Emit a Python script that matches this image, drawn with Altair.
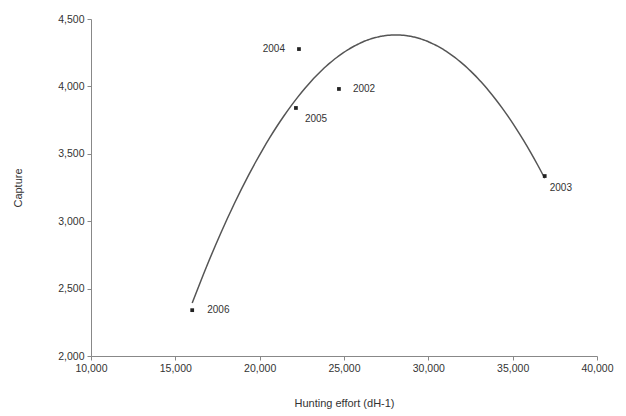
import altair as alt
import pandas as pd

years = ["2002", "2003", "2004", "2005", "2006"]
effort = [24700, 36900, 22330, 22150, 16000]
capture = [3981, 3335, 4277, 3840, 2340]

df = pd.DataFrame({"year": years, "effort": effort, "capture": capture})

xs = alt.Scale(domain=[10000, 40000], nice=False)
ys = alt.Scale(domain=[2000, 4500], nice=False, zero=False)
X = alt.X("effort:Q", scale=xs, axis=alt.Axis(title="Hunting effort (dH-1)", values=[10000, 15000, 20000, 25000, 30000, 35000, 40000], format=",.0f", titlePadding=24))
Y = alt.Y("capture:Q", scale=ys, axis=alt.Axis(title="Capture", values=[2000, 2500, 3000, 3500, 4000, 4500], format=",.0f", titlePadding=34))

base = alt.Chart(df)

curve = base.transform_regression("effort", "capture", method="poly", order=2).mark_line(
    color="#555555", strokeWidth=1.5, interpolate="monotone"
).encode(x=X, y=Y)

pts = base.mark_square(color="#222222", size=14, opacity=1).encode(x=X, y=Y)

def lab(yrs, **kw):
    return base.transform_filter(alt.FieldOneOfPredicate(field="year", oneOf=yrs)).mark_text(
        font="Liberation Sans", fontSize=10, color="#333333", baseline="middle", **kw
    ).encode(x=X, y=Y, text="year:N")

labels = [
    lab(["2002"], align="left", dx=14, dy=0),
    lab(["2006"], align="left", dx=15, dy=0),
    lab(["2004"], align="right", dx=-14, dy=0),
    lab(["2005"], align="left", dx=9, dy=11),
    lab(["2003"], align="left", dx=5, dy=12),
]

chart = alt.layer(curve, pts, *labels).properties(
    width=506, height=337,
    autosize=alt.AutoSizeParams(type="none"),
    padding={"left": 91, "top": 19, "right": 29, "bottom": 60},
).configure_view(stroke=None).configure_axis(
    grid=False, domainColor="#888888", tickColor="#888888", tickSize=4,
    labelFont="Liberation Sans", labelFontSize=10.5, labelColor="#333333",
    titleFont="Liberation Sans", titleFontSize=11, titleFontWeight="normal", titleColor="#333333",
    labelPadding=3, labelFlush=False, labelOverlap=False,
)

chart.save("out.html", embed_options={"renderer": "svg", "actions": False})
